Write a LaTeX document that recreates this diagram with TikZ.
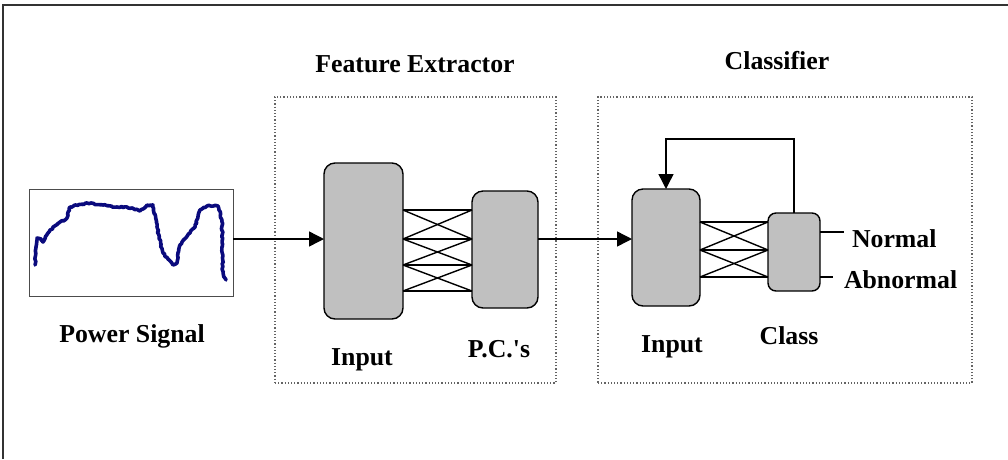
\documentclass[tikz,border=0pt]{standalone}
\usepackage{fontspec}
\setmainfont{Liberation Serif}
\usetikzlibrary{arrows.meta,calc,decorations.pathmorphing}
\definecolor{boxgray}{RGB}{192,192,192}
\definecolor{sigblue}{RGB}{10,10,125}
\definecolor{dotgray}{RGB}{100,100,100}
\begin{document}
\begin{tikzpicture}[x=1pt,y=-1pt,
  every node/.style={inner sep=0pt,outer sep=0pt},
  lbl/.style={font=\fontsize{25.8}{30}\selectfont\bfseries, anchor=base},
  unit/.style={draw=black,fill=boxgray,line width=1.4pt,rounded corners=11pt},
  smallunit/.style={unit,rounded corners=8pt},
  group/.style={draw=dotgray,dotted,line width=1.2pt},
  wire/.style={line width=1.4pt},
  arr/.style={line width=1.4pt,-{Triangle[length=15pt,width=15pt]}},
]
\useasboundingbox (0,0) rectangle (1008,459);
% frame
\draw[line width=1.6pt,draw=black!80] (3,459) -- (3,5) -- (1008,5);

% groups
\node[group,minimum width=281pt,minimum height=286pt] (fe) at (415.5,240) {};
\node[group,minimum width=374pt,minimum height=286pt] (cl) at (785,240) {};
\node[lbl] (fetitle) at (415,72) {Feature Extractor};
\node[lbl] (cltitle) at (777,69) {Classifier};

% power signal
\node[draw=black!70,line width=1pt,minimum width=204pt,minimum height=107pt] (psig) at (131,242.5) {};
\draw[sigblue,line width=3.6pt,line join=round,line cap=round,
      decorate,decoration={random steps,segment length=2pt,amplitude=0.8pt}]
  (35,265) -- (37,238) -- (41,239) -- (43,242) -- (50,230) -- (60,222) -- (67,218)
  -- (70,207) -- (87,203) -- (103,205) -- (117,207) -- (127,207) -- (140,211)
  -- (147,205) -- (153,205) -- (157,227) -- (163,253) -- (173,265) -- (177,263)
  -- (180,245) -- (190,233) -- (195,227) -- (200,210) -- (207,206) -- (218,206)
  -- (222,220) -- (223,273) -- (226,280);
\node[lbl] (pslabel) at (132,342) {Power Signal};

% level coordinates
\coordinate (a1) at (0,210);
\coordinate (a2) at (0,239);
\coordinate (a3) at (0,265);
\coordinate (a4) at (0,291);
\coordinate (b1) at (0,222);
\coordinate (b2) at (0,250);
\coordinate (b3) at (0,277);
\coordinate (fb) at (0,139);
\coordinate (nout) at (844,232);
\coordinate (aout) at (833,277);

% feature extractor units
\node[unit,minimum width=79pt,minimum height=156pt] (fin) at (363.5,241) {};
\node[unit,minimum width=66pt,minimum height=117pt] (pc) at (505,249.5) {};
\node[lbl] (finlabel) at (362,365) {Input};
\node[lbl] (pclabel) at (499,357) {P.C.\textquotesingle s};

\foreach \p in {a1,a2,a3,a4}
  \draw[wire] (fin.east |- \p) -- (pc.west |- \p);
\foreach \p/\q in {a1/a2,a2/a3,a3/a4}{
  \draw[wire] (fin.east |- \p) -- (pc.west |- \q);
  \draw[wire] (fin.east |- \q) -- (pc.west |- \p);
}

% classifier units
\node[unit,minimum width=68pt,minimum height=117pt] (cin) at (666,247.5) {};
\node[smallunit,minimum width=52pt,minimum height=78pt] (cls) at (794,252) {};
\node[lbl] (cinlabel) at (672,352) {Input};
\node[lbl] (clslabel) at (789,344) {Class};

\foreach \p in {b1,b2,b3}
  \draw[wire] (cin.east |- \p) -- (cls.west |- \p);
\foreach \p/\q in {b1/b2,b2/b3}{
  \draw[wire] (cin.east |- \p) -- (cls.west |- \q);
  \draw[wire] (cin.east |- \q) -- (cls.west |- \p);
}

% main flow arrows
\draw[arr] (psig.east |- a2) -- (fin.west |- a2);
\draw[arr] (pc.east |- a2) -- (cin.west |- a2);

% feedback
\draw[arr] (cls.north) -- (cls.north |- fb) -| (cin.north);

% outputs
\draw[wire] (cls.east |- nout) -- (nout);
\draw[wire] (cls.east |- aout) -- (aout);
\node[lbl,anchor=base west] (normal) at (852,247) {Normal};
\node[lbl,anchor=base west] (abnormal) at (844,288) {Abnormal};
\end{tikzpicture}
\end{document}
